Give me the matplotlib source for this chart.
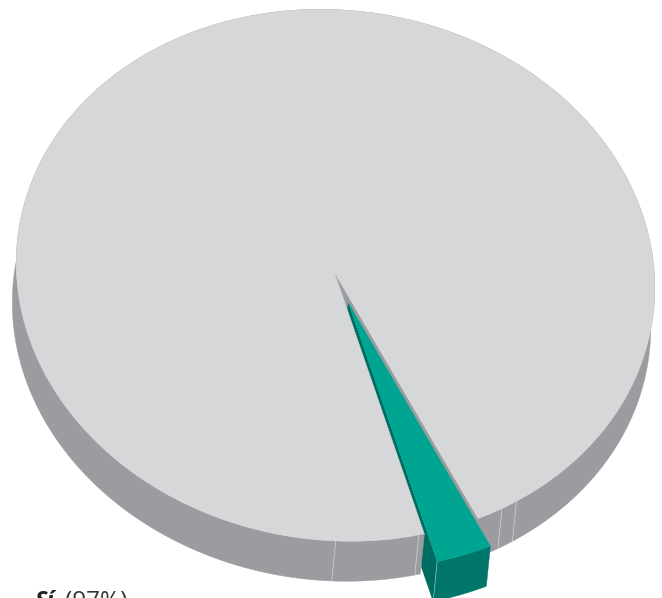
import numpy as np
import matplotlib
matplotlib.use("Agg")
import matplotlib.pyplot as plt
from matplotlib.patches import Polygon

# data
labels = ["Sí", "No"]
shares = [97.15, 2.85]
label_text = "(97%)"
seam_angles = [49.5, 52.6, 68.9, 84.0]

# geometry / style
W, H = 662, 598
cx, cy = 335.5, 275.3
a, b = 320.0, 265.0
rot = np.radians(7.2)
depth = np.array([-4.0, 40.0])
explode = np.array([12.8, 27.5])
start = 57.6
TOP, SIDE = "#d6d7d9", "#9b9c9f"
G_TOP, G_FRONT, G_WALL = "#00a591", "#00766a", "#006b60"
SEAM = "#cfd0d2"


def rim(t_deg):
    t = np.radians(np.asarray(t_deg, dtype=float))
    u, v = a * np.cos(t), b * np.sin(t)
    return np.column_stack([cx + u * np.cos(rot) - v * np.sin(rot),
                            cy + u * np.sin(rot) + v * np.cos(rot)])


sweep = 360 * shares[1] / sum(shares)
end = start + sweep
centre = np.array([cx, cy])

fig = plt.figure(figsize=(W / 100, H / 100), dpi=100)
ax = fig.add_axes([0, 0, 1, 1])
ax.set_xlim(0, W)
ax.set_ylim(H, 0)
ax.axis("off")


def poly(pts, color, z):
    ax.add_patch(Polygon(pts, closed=True, facecolor=color, edgecolor=color,
                         linewidth=0.3, zorder=z))


def seam(p, z, color=SEAM, lw=0.55):
    ax.plot([p[0], p[0] + depth[0]], [p[1], p[1] + depth[1]],
            color=color, lw=lw, zorder=z, solid_capstyle="butt")


# notch walls (seen through the gap)
rs, re = rim([start, end])
poly([centre, rs, rs + depth, centre + depth], SIDE, 1)
gc = centre + explode
gs, ge = rs + explode, re + explode
poly([gc, ge, ge + depth, gc + depth], G_WALL, 2)

# main slice: side band and top
t_main = np.linspace(end, start + 360, 500)
edge = rim(t_main)
poly(np.vstack([edge, (edge + depth)[::-1]]), SIDE, 3)
poly(np.vstack([centre, edge]), TOP, 4)
for s in seam_angles:
    if not (start <= s <= end):
        seam(rim([s])[0], 4.5)

# exploded slice: top and front
poly([centre, rs, rs + depth], SIDE, 4.2)
t_g = np.linspace(start, end, 40)
g_edge = rim(t_g) + explode
poly(np.vstack([gc, g_edge]), G_TOP, 6)
poly(np.vstack([g_edge, (g_edge + depth)[::-1]]), G_FRONT, 5)
seam(ge, 6.5, "#8fc9c0", 0.5)

# label, cut off by the lower edge of the figure
ax.text(35, 608.5, labels[0], fontsize=17, fontstyle="italic", fontweight="bold",
        family="Open Sans", color="#222222", zorder=7)
ax.text(65, 608.5, label_text, fontsize=17.5, family="Open Sans", color="#333333",
        zorder=7)

fig.savefig("out.png", dpi=100)
